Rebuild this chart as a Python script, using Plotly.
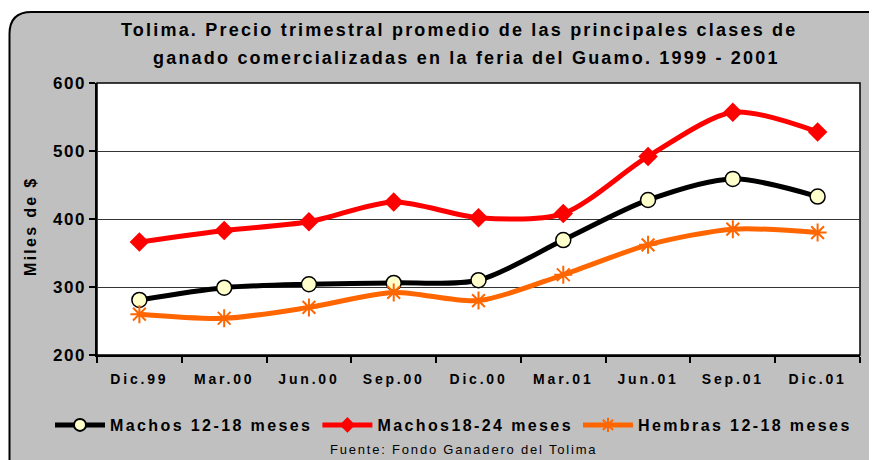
import plotly.graph_objects as go

categories = ["Dic.99", "Mar.00", "Jun.00", "Sep.00", "Dic.00", "Mar.01", "Jun.01", "Sep.01", "Dic.01"]
machos_12_18 = [281, 299, 304, 306, 310, 369, 428, 459, 433]
machos_18_24 = [366, 383, 396, 425, 402, 408, 492, 557, 528]
hembras_12_18 = [260, 254, 270, 292, 280, 318, 362, 385, 380]
y_ticks = [200, 300, 400, 500, 600]

# page has an 8px body margin; work in window coordinates and offset
OFF = 8
WIN_W, WIN_H = 877, 460
W, H = WIN_W - OFF, WIN_H - OFF
PL, PR, PT, PB = 97, 860, 83, 355  # plot area in window pixels
L, R, T, B = PL - OFF, WIN_W - PR, PT - OFF, WIN_H - PB
PW, PH = PR - PL, PB - PT
FONT = "Liberation Sans, Arial, sans-serif"


def px(x):
    return (x - PL) / PW


def py(y):
    return (PB - y) / PH


def sp(text, ls, bold=True):
    t = f'<span style="letter-spacing:{ls}px">{text}</span>'
    return f"<b>{t}</b>" if bold else t


fig = go.Figure()

fig.add_trace(go.Scatter(
    x=categories, y=machos_12_18, name=sp("Machos 12-18 meses", 2.4),
    mode="lines+markers", line=dict(color="black", width=5, shape="spline", smoothing=0.8),
    marker=dict(symbol="circle", size=15, color="#FFFFCC", line=dict(color="black", width=1.5)),
))
fig.add_trace(go.Scatter(
    x=categories, y=machos_18_24, name=sp("Machos18-24 meses", 2.4),
    mode="lines+markers", line=dict(color="#FF0000", width=5, shape="spline", smoothing=0.8),
    marker=dict(symbol="diamond", size=15, color="#FF0000"),
))
fig.add_trace(go.Scatter(
    x=categories, y=hembras_12_18, name=sp("Hembras 12-18 meses", 2.4),
    mode="lines+markers", line=dict(color="#FF6600", width=5, shape="spline", smoothing=0.8),
    marker=dict(symbol="asterisk-open", size=15, color="#FF6600", line=dict(color="#FF6600", width=2)),
))

# outer rounded grey panel
x0, y0, x1, y1, r = 9.5, 12, 900, 490, 22
path = (
    f"M {px(x0)},{py(y0 + r)} "
    f"Q {px(x0)},{py(y0)} {px(x0 + r)},{py(y0)} "
    f"L {px(x1 - r)},{py(y0)} "
    f"Q {px(x1)},{py(y0)} {px(x1)},{py(y0 + r)} "
    f"L {px(x1)},{py(y1)} L {px(x0)},{py(y1)} Z"
)
shapes = [
    dict(type="path", xref="paper", yref="paper", path=path,
         fillcolor="#C0C0C0", line=dict(color="black", width=2), layer="below"),
    dict(type="rect", xref="paper", yref="paper", x0=0, y0=0, x1=1, y1=1,
         fillcolor="white", line=dict(color="black", width=1.5), layer="below"),
]

annotations = [
    dict(text=sp("Tolima. Precio trimestral promedio de las principales clases de", 2.2),
         x=px(459), y=py(30), xref="paper", yref="paper", showarrow=False,
         font=dict(size=18, color="black", family=FONT), xanchor="center", yanchor="middle"),
    dict(text=sp("ganado comercializadas en la feria del Guamo. 1999 - 2001", 2.2),
         x=px(466), y=py(58), xref="paper", yref="paper", showarrow=False,
         font=dict(size=18, color="black", family=FONT), xanchor="center", yanchor="middle"),
    dict(text=sp("Miles de $", 2.3), x=px(30), y=py(227), xref="paper", yref="paper",
         showarrow=False, textangle=-90, font=dict(size=16, color="black", family=FONT),
         xanchor="center", yanchor="middle"),
    dict(text=sp("Fuente: Fondo Ganadero del Tolima", 1.8, bold=False), x=px(463), y=py(449),
         xref="paper", yref="paper",
         showarrow=False, font=dict(size=13, color="black", family=FONT),
         xanchor="center", yanchor="middle"),
]

fig.update_layout(
    width=W, height=H,
    margin=dict(l=L, r=R, t=T, b=B, autoexpand=False),
    paper_bgcolor="white", plot_bgcolor="rgba(0,0,0,0)",
    font=dict(family=FONT, color="black"),
    shapes=shapes, annotations=annotations,
    showlegend=True,
    legend=dict(orientation="h", x=px(50), xanchor="left", y=py(425), yanchor="middle",
                bgcolor="rgba(0,0,0,0)", font=dict(size=16, color="black", family=FONT),
                itemwidth=50, itemsizing="constant", tracegroupgap=0, traceorder="normal"),
    xaxis=dict(
        type="category", tickson="boundaries", ticks="outside", ticklen=6, tickcolor="black",
        tickwidth=1.5, showgrid=False, showline=True, linecolor="black", linewidth=1.5,
        tickfont=dict(size=14, color="black", family=FONT), ticklabelstandoff=10,
        tickvals=categories, ticktext=[sp(c, 2.8) for c in categories],
        range=[-0.5, len(categories) - 0.5], fixedrange=True,
    ),
    yaxis=dict(
        range=[200, 600], tickvals=y_ticks, ticktext=[sp(str(v), 1.5) for v in y_ticks],
        ticks="outside", ticklen=6, tickcolor="black", tickwidth=1.5,
        showgrid=True, gridcolor="#333333", gridwidth=1, zeroline=False,
        showline=True, linecolor="black", linewidth=1.5,
        tickfont=dict(size=17, color="black", family=FONT), fixedrange=True,
    ),
)

fig.write_html("out.html")
